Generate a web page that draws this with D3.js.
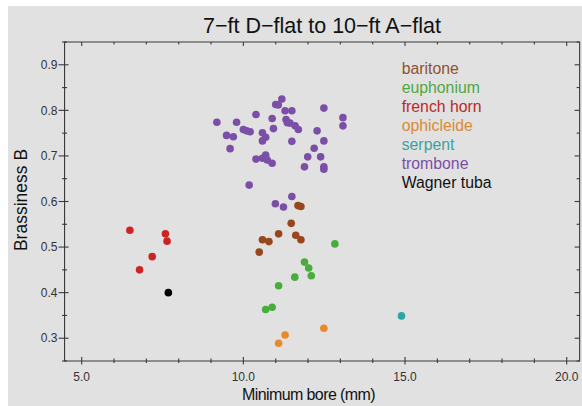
<!DOCTYPE html>
<html><head><meta charset="utf-8">
<script src="https://cdn.jsdelivr.net/npm/d3@7"></script>
<style>html,body{margin:0;padding:0;background:#fff}svg{display:block}</style>
</head><body>
<svg id="c" width="582" height="406"></svg>
<script>
const titleText = "7\u2212ft D\u2212flat to 10\u2212ft A\u2212flat";
const xLabel = "Minimum bore (mm)";
const yLabel = "Brassiness B";
const xTickValues = [5, 10, 15, 20];
const yTickValues = [0.3, 0.4, 0.5, 0.6, 0.7, 0.8, 0.9];
const instruments = ["baritone","euphonium","french horn","ophicleide","serpent","trombone","Wagner tuba"];
const colors = ["#98461e","#48ad3c","#cc2424","#e88a2a","#2aa6a6","#7b4ea8","#000000"];
const legendColors = ["#8f5230","#4fa842","#b82a2a","#d98a35","#3aa3a0","#7a4ea3","#111111"];

const baritoneX = [11.69,11.78,11.48,11.09,11.62,11.78,10.59,10.79,10.49];
const baritoneY = [0.591,0.589,0.552,0.529,0.526,0.516,0.516,0.512,0.489];
const euphoniumX = [12.83,11.89,12.02,12.10,11.59,11.09,10.89,10.69];
const euphoniumY = [0.507,0.467,0.454,0.437,0.434,0.415,0.368,0.363];
const frenchHornX = [6.49,7.59,7.64,7.18,6.79];
const frenchHornY = [0.537,0.529,0.513,0.479,0.450];
const ophicleideX = [12.49,11.29,11.09];
const ophicleideY = [0.322,0.307,0.289];
const serpentX = [14.89];
const serpentY = [0.349];
const tromboneX = [11.19,11.00,11.08,12.49,11.29,11.50,10.39,13.08,10.89,11.32,11.36,11.44,9.18,9.79,13.08,11.60,11.70,10.93,10.00,10.10,10.21,12.28,10.59,9.48,9.69,10.69,10.59,11.50,12.49,9.59,12.19,11.99,12.39,10.39,10.59,10.69,10.74,10.89,11.89,12.49,12.49,10.18,11.50,10.99,11.24];
const tromboneY = [0.825,0.813,0.812,0.805,0.799,0.799,0.791,0.784,0.782,0.780,0.773,0.772,0.774,0.774,0.766,0.766,0.758,0.760,0.758,0.755,0.753,0.755,0.751,0.745,0.742,0.741,0.733,0.732,0.733,0.716,0.717,0.698,0.698,0.693,0.695,0.702,0.691,0.684,0.676,0.676,0.671,0.636,0.611,0.595,0.588];
const wagnerTubaX = [7.68];
const wagnerTubaY = [0.400];

const seriesX = [baritoneX, euphoniumX, frenchHornX, ophicleideX, serpentX, tromboneX, wagnerTubaX];
const seriesY = [baritoneY, euphoniumY, frenchHornY, ophicleideY, serpentY, tromboneY, wagnerTubaY];

const svg = d3.select("#c");
const x = d3.scaleLinear().domain([5, 20]).range([81.7, 566.7]);
const y = d3.scaleLinear().domain([0.25, 0.95]).range([361, 42]);
const x0 = x(4.47), x1 = x(20.4), yb = y(0.25), yt = y(0.95);
const axisColor = "#3a3a3a";
const font = "'Liberation Sans', Arial, Helvetica, sans-serif";

svg.append("rect").attr("x", 8).attr("y", 6).attr("width", 574).attr("height", 400).attr("fill", "#e1e1e1");

// frame
const frame = svg.append("g").attr("stroke", axisColor).attr("stroke-width", 1.1).attr("fill", "none");
frame.append("path").attr("d", `M${x0},${yt}H${x1}V${yb}H${x0}Z`);

const xMinor = d3.range(5, 21, 1);
const yMinor = d3.range(0.25, 0.951, 0.05);
xMinor.forEach(v => {
  const major = xTickValues.includes(v);
  frame.append("line").attr("x1", x(v)).attr("x2", x(v))
    .attr("y1", yb - (major ? 4 : 2.5)).attr("y2", yb + (major ? 3.5 : 2));
  frame.append("line").attr("x1", x(v)).attr("x2", x(v))
    .attr("y1", yt).attr("y2", yt + (major ? 4 : 2.5));
});
yMinor.forEach(v => {
  const major = yTickValues.some(t => Math.abs(t - v) < 1e-6);
  frame.append("line").attr("y1", y(v)).attr("y2", y(v))
    .attr("x1", x0 - (major ? 6 : 2.5)).attr("x2", x0 + (major ? 4 : 2.5));
  frame.append("line").attr("y1", y(v)).attr("y2", y(v))
    .attr("x1", x1 - (major ? 5 : 3)).attr("x2", x1);
});

// tick labels
svg.append("g").selectAll("text").data(xTickValues).join("text")
  .attr("x", d => x(d)).attr("y", 381).attr("text-anchor", "middle")
  .attr("font-family", font).attr("font-size", 12).attr("fill", "#333")
  .text(d => d3.format(".1f")(d));
svg.append("g").selectAll("text").data(yTickValues).join("text")
  .attr("x", 57.5).attr("y", d => y(d) + 4.2).attr("text-anchor", "end")
  .attr("font-family", font).attr("font-size", 12).attr("fill", "#333")
  .text(d => d3.format(".1f")(d));

// titles
svg.append("text").attr("x", 322).attr("y", 33).attr("text-anchor", "middle")
  .attr("font-family", font).attr("font-size", 21.5).attr("fill", "#111").text(titleText);
svg.append("text").attr("x", 308.5).attr("y", 400).attr("text-anchor", "middle")
  .attr("font-family", font).attr("font-size", 16).attr("fill", "#111").attr("letter-spacing", -0.6).text(xLabel);
svg.append("text").attr("transform", "translate(27,200) rotate(-90)").attr("text-anchor", "middle")
  .attr("font-family", font).attr("font-size", 17.5).attr("fill", "#111").text(yLabel);

// points
instruments.forEach((name, i) => {
  const pts = seriesX[i].map((v, j) => [v, seriesY[i][j]]);
  svg.append("g").selectAll("circle").data(pts).join("circle")
    .attr("cx", d => x(d[0])).attr("cy", d => y(d[1])).attr("r", 3.8)
    .attr("fill", colors[i]);
});

// legend
svg.append("g").selectAll("text").data(instruments).join("text")
  .attr("x", 401.7).attr("y", (d, i) => 74 + i * 19.07)
  .attr("font-family", font).attr("font-size", 15.8)
  .attr("fill", (d, i) => legendColors[i]).text(d => d);
</script>
</body></html>
